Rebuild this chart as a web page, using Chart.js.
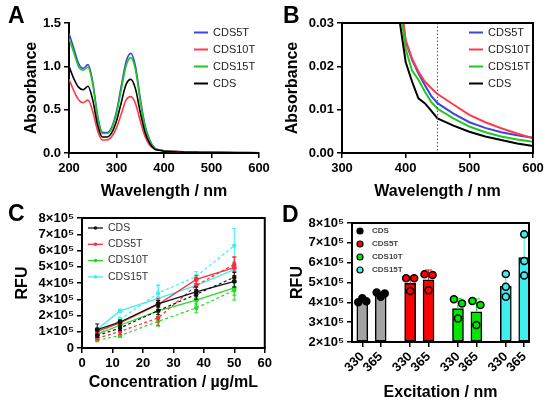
<!DOCTYPE html>
<html>
<head>
<meta charset="utf-8">
<script src="https://cdn.jsdelivr.net/npm/chart.js@4.4.1/dist/chart.umd.min.js"></script>
<style>
  body { margin: 0; background: #fff; }
  #fig { position: relative; width: 550px; height: 405px; font-family: "Liberation Sans", Arial, sans-serif; }
  canvas { position: absolute; }
  .letter { position: absolute; font-weight: bold; font-size: 23px; line-height: 23px; color: #000; }
</style>
</head>
<body>
<div id="fig">
  <canvas id="chartA" width="275" height="200" style="left:0;top:0"></canvas>
  <canvas id="chartB" width="275" height="200" style="left:275px;top:0"></canvas>
  <canvas id="chartC" width="275" height="205" style="left:0;top:200px"></canvas>
  <canvas id="chartD" width="275" height="205" style="left:275px;top:200px"></canvas>
  <div class="letter" style="left:8px;top:4px">A</div>
  <div class="letter" style="left:283px;top:4px">B</div>
  <div class="letter" style="left:8px;top:202px">C</div>
  <div class="letter" style="left:282px;top:203px">D</div>
</div>
<script>
// --- absorbance spectra (panels A and B) ---
const wavelengths = [200, 210, 220, 230, 240, 250, 260, 270, 280, 290, 300, 310, 320, 330, 340, 350, 360, 370, 380, 390,
  400, 410, 420, 430, 440, 450, 475, 500, 525, 550, 575, 600];
const absCDS5T = [1.38, 1.21, 1.035, 0.977, 1.02, 0.82, 0.44, 0.24, 0.235, 0.30, 0.48, 0.77, 1.05, 1.15, 1.0, 0.63, 0.32, 0.15, 0.06, 0.037,
  0.0257, 0.0215, 0.0184, 0.0157, 0.0132, 0.0115, 0.0091, 0.0071, 0.0058, 0.0048, 0.0041, 0.0035];
const absCDS10T = [0.85, 0.72, 0.615, 0.58, 0.61, 0.48, 0.26, 0.15, 0.15, 0.19, 0.29, 0.45, 0.61, 0.65, 0.57, 0.37, 0.19, 0.09, 0.05, 0.038,
  0.026, 0.0218, 0.0188, 0.0165, 0.015, 0.0136, 0.0112, 0.0088, 0.0071, 0.0057, 0.0045, 0.0034];
const absCDS15T = [1.32, 1.16, 1.0, 0.955, 0.99, 0.79, 0.42, 0.225, 0.225, 0.285, 0.455, 0.73, 1.0, 1.10, 0.96, 0.60, 0.30, 0.14, 0.056, 0.035,
  0.024, 0.019, 0.0169, 0.0142, 0.0118, 0.0102, 0.008, 0.0061, 0.0048, 0.0038, 0.0031, 0.0026];
const absCDS = [1.0, 0.86, 0.76, 0.73, 0.77, 0.61, 0.33, 0.185, 0.185, 0.235, 0.37, 0.58, 0.79, 0.85, 0.74, 0.47, 0.24, 0.11, 0.045, 0.031,
  0.021, 0.0165, 0.0126, 0.0115, 0.0098, 0.008, 0.0063, 0.0049, 0.0038, 0.003, 0.0022, 0.0016];
const markedWavelength = 450;

// --- RFU vs concentration (panel C), solid = 330 nm, dashed = 365 nm ---
const concentrations = [5, 12.5, 25, 37.5, 50];
const rfuCDS_330 = [113000, 160000, 272000, 345000, 410000];
const rfuCDS5T_330 = [102000, 155000, 268000, 422000, 495000];
const rfuCDS10T_330 = [85000, 140000, 228000, 295000, 370000];
const rfuCDS15T_330 = [115000, 228000, 305000, 385000, 482000];
const sdCDS_330 = [35000, 12000, 20000, 30000, 35000];
const sdCDS5T_330 = [15000, 15000, 35000, 25000, 65000];
const sdCDS10T_330 = [10000, 15000, 20000, 30000, 45000];
const sdCDS15T_330 = [12000, 10000, 80000, 35000, 50000];
const rfuCDS_365 = [76000, 123000, 230000, 330000, 435000];
const rfuCDS5T_365 = [60000, 102000, 185000, 385000, 515000];
const rfuCDS10T_365 = [47000, 76000, 164000, 246000, 355000];
const rfuCDS15T_365 = [80000, 175000, 338000, 440000, 630000];
const sdCDS_365 = [10000, 15000, 25000, 30000, 30000];
const sdCDS5T_365 = [10000, 20000, 45000, 40000, 45000];
const sdCDS10T_365 = [8000, 10000, 30000, 30000, 60000];
const sdCDS15T_365 = [10000, 15000, 50000, 30000, 105000];

// --- RFU by excitation (panel D) ---
const groups = ['CDS', 'CDS5T', 'CDS10T', 'CDS15T'];
const excitations = ['330', '365'];
const meanRFU = [408000, 437000, 496000, 513000, 369000, 352000, 482000, 626000];
const sdRFU = [10000, 12000, 35000, 50000, 50000, 65000, 60000, 110000];
const repRFU = [
  [400000, 420000, 406000], [450000, 428000, 445000],
  [521000, 457000, 521000], [541000, 461000, 538000],
  [416000, 318000, 394000], [407000, 286000, 387000],
  [543000, 479000, 428000], [743000, 608000, 535000]
];

const FONT = '"Liberation Sans", Arial, sans-serif';
Chart.defaults.font.family = FONT;
Chart.defaults.color = '#000';
Chart.defaults.animation = false;

const blue = '#3d45dc', red = '#ff3b4a', green = '#1fc81f', black = '#000';
const cRed = '#ff2a3a', cGreen = '#22dd22', cCyan = '#3ef0f0';
const barColors = ['#a3a3a3', '#ff0000', '#00e800', '#40eeee'];

function sci(v) {
  return v === 0 ? '0' : Math.round(v / 1e5) + '×10⁵';
}

function axis(o) {
  return {
    type: 'linear', min: o.min, max: o.max, offset: false,
    ticks: { stepSize: o.step, callback: o.fmt, font: { size: 13, weight: 'bold' }, color: '#000', padding: 3, maxRotation: 0, autoSkip: false },
    grid: { drawOnChartArea: false, drawTicks: true, tickLength: 5, color: '#000', lineWidth: 1.5, offset: false },
    border: { display: true, color: '#000', width: 2 },
    title: { display: true, text: o.title, font: { size: 16, weight: 'bold', lineHeight: 1 }, padding: 0, color: '#000' },
    afterFit: s => { if (s.isHorizontal()) s.height = o.size; else s.width = o.size; }
  };
}

function frame() {
  return {
    id: 'frame',
    afterDraw(chart) {
      const { ctx, chartArea: a } = chart;
      ctx.save();
      ctx.strokeStyle = '#000';
      ctx.lineWidth = 2;
      ctx.strokeRect(a.left, a.top, a.right - a.left, a.bottom - a.top);
      ctx.restore();
    }
  };
}

function insideLegend(cfg) {
  return {
    id: 'insideLegend',
    afterDraw(chart) {
      const ctx = chart.ctx;
      ctx.save();
      ctx.font = cfg.font;
      ctx.textBaseline = 'middle';
      cfg.items.forEach((it, i) => {
        const y = cfg.y + i * cfg.gap;
        if (cfg.symbol === 'dot') {
          ctx.beginPath();
          ctx.arc(cfg.x + 4, y, 3, 0, Math.PI * 2);
          ctx.fillStyle = it.color;
          ctx.fill();
          ctx.lineWidth = 1.2;
          ctx.strokeStyle = '#000';
          ctx.stroke();
        } else {
          ctx.strokeStyle = it.color;
          ctx.lineWidth = cfg.lineWidth;
          ctx.beginPath();
          ctx.moveTo(cfg.x, y);
          ctx.lineTo(cfg.x + cfg.len, y);
          ctx.stroke();
          if (cfg.symbol === 'linepoint') {
            ctx.fillStyle = it.color;
            ctx.beginPath();
            ctx.arc(cfg.x + cfg.len / 2, y, 1.8, 0, Math.PI * 2);
            ctx.fill();
          }
        }
        ctx.fillStyle = cfg.textColor;
        ctx.fillText(it.label, cfg.textX, y);
      });
      ctx.restore();
    }
  };
}

function errorBars() {
  return {
    id: 'errorBars',
    afterDatasetDraw(chart, args) {
      const ds = chart.data.datasets[args.index];
      if (!ds.errors) return;
      const yScale = chart.scales.y;
      const ctx = chart.ctx;
      ctx.save();
      ctx.lineWidth = 1;
      args.meta.data.forEach((el, i) => {
        const v = ds.data[i].y;
        const e = ds.errors[i];
        const x = el.x;
        const top = yScale.getPixelForValue(v + e);
        const bot = yScale.getPixelForValue(ds.upOnly ? v : v - e);
        ctx.strokeStyle = ds.errorColors ? ds.errorColors[i] : ds.borderColor;
        ctx.beginPath();
        ctx.moveTo(x, top); ctx.lineTo(x, bot);
        ctx.moveTo(x - ds.capHalf, top); ctx.lineTo(x + ds.capHalf, top);
        if (!ds.upOnly) { ctx.moveTo(x - ds.capHalf, bot); ctx.lineTo(x + ds.capHalf, bot); }
        ctx.stroke();
      });
      ctx.restore();
    }
  };
}

function vline(value) {
  return {
    id: 'vline',
    afterDatasetsDraw(chart) {
      const { ctx, chartArea: a } = chart;
      const x = chart.scales.x.getPixelForValue(value);
      ctx.save();
      ctx.strokeStyle = '#555';
      ctx.lineWidth = 1;
      ctx.setLineDash([1.5, 2]);
      ctx.beginPath();
      ctx.moveTo(x, a.top); ctx.lineTo(x, a.bottom);
      ctx.stroke();
      ctx.restore();
    }
  };
}

const pts = (xs, ys) => xs.map((x, i) => ({ x, y: ys[i] }));

const spectra = [
  { label: 'CDS5T', values: absCDS5T, color: blue },
  { label: 'CDS10T', values: absCDS10T, color: red },
  { label: 'CDS15T', values: absCDS15T, color: green },
  { label: 'CDS', values: absCDS, color: black }
];

const specLegend = {
  x: 194, y: 32.5, gap: 17, len: 14, textX: 213, lineWidth: 2, symbol: 'line',
  font: '11px ' + FONT, textColor: '#222',
  items: spectra.map(s => ({ label: s.label, color: s.color }))
};

// Panel A
new Chart(document.getElementById('chartA'), {
  type: 'line',
  data: {
    datasets: spectra.slice().reverse().map(s => ({
      label: s.label, data: pts(wavelengths, s.values), borderColor: s.color,
      borderWidth: 1.6, pointRadius: 0, cubicInterpolationMode: 'monotone'
    }))
  },
  options: {
    responsive: false,
    layout: { padding: { left: 24, top: 23, right: 16, bottom: 0 } },
    plugins: { legend: { display: false }, tooltip: { enabled: false } },
    scales: {
      x: axis({ min: 200, max: 600, step: 100, fmt: v => v, title: 'Wavelength / nm', size: 47 }),
      y: axis({ min: 0, max: 1.5, step: 0.5, fmt: v => v.toFixed(1), title: 'Absorbance', size: 45 })
    }
  },
  plugins: [insideLegend(specLegend)]
});

// Panel B
new Chart(document.getElementById('chartB'), {
  type: 'line',
  data: {
    datasets: spectra.slice().reverse().map(s => ({
      label: s.label, data: pts(wavelengths, s.values), borderColor: s.color,
      borderWidth: 2, pointRadius: 0, tension: 0
    }))
  },
  options: {
    responsive: false,
    layout: { padding: { left: 10, top: 23, right: 17, bottom: 0 } },
    plugins: { legend: { display: false }, tooltip: { enabled: false } },
    scales: {
      x: axis({ min: 300, max: 600, step: 100, fmt: v => v, title: 'Wavelength / nm', size: 47 }),
      y: axis({ min: 0, max: 0.03, step: 0.01, fmt: v => v.toFixed(2), title: 'Absorbance', size: 57 })
    }
  },
  plugins: [vline(markedWavelength), frame(), insideLegend(specLegend)]
});

// Panel C
const conc = [
  { label: 'CDS', color: '#111', s330: rfuCDS_330, e330: sdCDS_330, s365: rfuCDS_365, e365: sdCDS_365 },
  { label: 'CDS5T', color: cRed, s330: rfuCDS5T_330, e330: sdCDS5T_330, s365: rfuCDS5T_365, e365: sdCDS5T_365 },
  { label: 'CDS10T', color: cGreen, s330: rfuCDS10T_330, e330: sdCDS10T_330, s365: rfuCDS10T_365, e365: sdCDS10T_365 },
  { label: 'CDS15T', color: cCyan, s330: rfuCDS15T_330, e330: sdCDS15T_330, s365: rfuCDS15T_365, e365: sdCDS15T_365 }
];
const cDatasets = [];
conc.forEach(c => {
  cDatasets.push({
    label: c.label + ' 365', data: pts(concentrations, c.s365), borderColor: c.color, backgroundColor: c.color,
    borderWidth: 1.2, borderDash: [3, 2.5], pointRadius: 1.6, errors: c.e365, capHalf: 2
  });
  cDatasets.push({
    label: c.label, data: pts(concentrations, c.s330), borderColor: c.color, backgroundColor: c.color,
    borderWidth: 1.3, pointRadius: 1.8, errors: c.e330, capHalf: 2
  });
});

new Chart(document.getElementById('chartC'), {
  type: 'line',
  data: { datasets: cDatasets },
  options: {
    responsive: false,
    layout: { padding: { left: 15, top: 18, right: 10, bottom: 14 } },
    plugins: { legend: { display: false }, tooltip: { enabled: false } },
    scales: {
      x: axis({ min: 0, max: 60, step: 10, fmt: v => v, title: 'Concentration / µg/mL', size: 43 }),
      y: axis({ min: 0, max: 800000, step: 100000, fmt: sci, title: 'RFU', size: 67 })
    }
  },
  plugins: [errorBars(), frame(), insideLegend({
    x: 88, y: 28, gap: 16.3, len: 15, textX: 108, lineWidth: 1.3, symbol: 'linepoint',
    font: '10.5px ' + FONT, textColor: '#333',
    items: conc.map(c => ({ label: c.label, color: c.color }))
  })]
});

// Panel D
const groupGap = 2.6;
const dotSpread = [0.22, 0.22, 0.22, 0];
const jitter = [-1, 0, 1];
const barPos = [];
const barFill = [];
const barErrColor = [];
groups.forEach((g, gi) => excitations.forEach((ex, ei) => {
  barPos.push(gi * groupGap + ei);
  barFill.push(barColors[gi]);
  barErrColor.push(gi === 0 ? '#555' : barColors[gi]);
}));

const dDatasets = [{
  type: 'bar', label: 'mean', data: pts(barPos, meanRFU), base: 200000,
  backgroundColor: barFill, borderColor: '#000', borderWidth: 1.5, borderSkipped: false,
  barThickness: 11, order: 2, errors: sdRFU, upOnly: true, errorColors: barErrColor, capHalf: 3.5
}];
groups.forEach((g, gi) => {
  const data = [];
  [0, 1].forEach(ei => {
    const idx = gi * 2 + ei;
    repRFU[idx].forEach((v, k) => data.push({ x: barPos[idx] + jitter[k] * dotSpread[gi], y: v }));
  });
  dDatasets.push({
    type: 'scatter', label: g, data, order: 1,
    backgroundColor: gi === 0 ? '#000' : barColors[gi], borderColor: '#000',
    borderWidth: 1.5, pointRadius: 3.5
  });
});

new Chart(document.getElementById('chartD'), {
  type: 'bar',
  data: { datasets: dDatasets },
  options: {
    responsive: false,
    layout: { padding: { left: 15, top: 23, right: 21, bottom: 4 } },
    plugins: { legend: { display: false }, tooltip: { enabled: false } },
    scales: {
      x: Object.assign(axis({ min: -0.56, max: 9.06, step: 1, fmt: null, title: 'Excitation / nm', size: 59 }), {
        afterBuildTicks: s => { s.ticks = barPos.map(v => ({ value: v })); },
        ticks: { callback: (v, i) => excitations[i % 2], font: { size: 13, weight: 'bold' }, color: '#000',
          padding: 2, minRotation: 45, maxRotation: 45, autoSkip: false },
      }),
      y: axis({ min: 200000, max: 800000, step: 100000, fmt: sci, title: 'RFU', size: 62 })
    }
  },
  plugins: [errorBars(), frame(), insideLegend({
    x: 81, y: 31, gap: 13, textX: 97, symbol: 'dot',
    font: 'bold 8px ' + FONT, textColor: '#444',
    items: groups.map((g, gi) => ({ label: g, color: gi === 0 ? '#000' : barColors[gi] }))
  })]
});
</script>
</body>
</html>
